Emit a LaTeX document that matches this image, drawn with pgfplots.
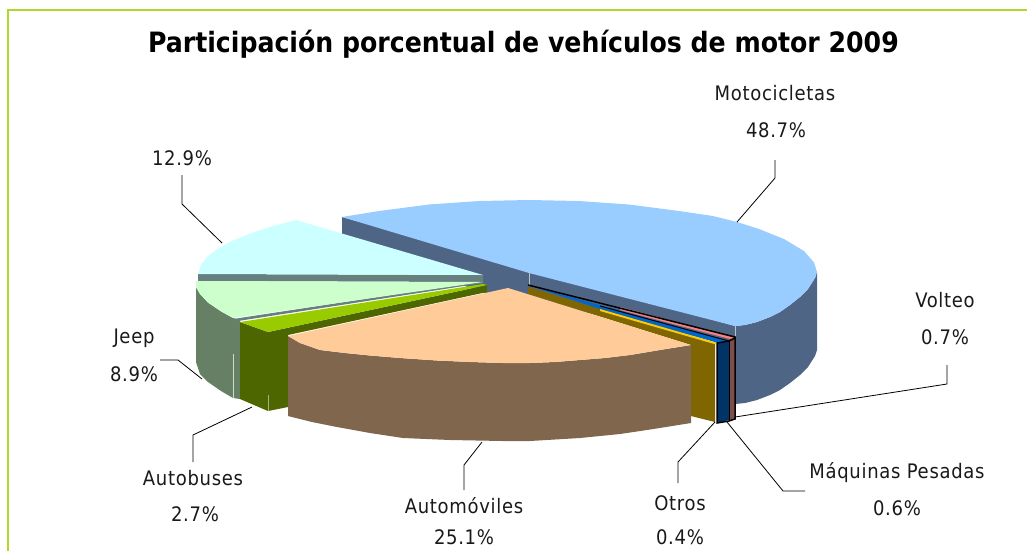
\documentclass[border=0pt]{standalone}
\usepackage{pgfplots}
\pgfplotsset{compat=1.18}
\usepackage{fontspec}
\setmainfont{DejaVu Sans Condensed}
\newfontfamily\labfont[LetterSpace=3.5]{DejaVu Sans Condensed}
\definecolor{cblue}{HTML}{99CCFF}
\definecolor{dblue}{HTML}{4F6585}
\definecolor{ccyan}{HTML}{CCFFFF}
\definecolor{dcyan}{HTML}{668080}
\definecolor{cgreen}{HTML}{CCFFCC}
\definecolor{dgreen}{HTML}{668066}
\definecolor{clime}{HTML}{99CC00}
\definecolor{dlime}{HTML}{4D6600}
\definecolor{cpeach}{HTML}{FFCC99}
\definecolor{dpeach}{HTML}{80664D}
\definecolor{cgold}{HTML}{FFCC00}
\definecolor{dgold}{HTML}{806600}
\definecolor{cmaq}{HTML}{0066CC}
\definecolor{dmaq}{HTML}{003366}
\definecolor{cred}{HTML}{FF8080}
\definecolor{dred}{HTML}{804D4D}
\definecolor{frame}{HTML}{AFD82A}
\newcommand{\poly}[2]{\addplot[fill=#1,draw=none,line width=0pt] coordinates {#2} -- cycle;}
\newcommand{\lead}[1]{\addplot[black,line width=0.8pt] coordinates {#1};}
\newcommand{\lab}[2]{\node[font=\labfont\fontsize{20}{22}\selectfont,text=black!90] at (axis cs:#1) {#2};}
\begin{document}
\begin{tikzpicture}
\path[use as bounding box] (0,0) rectangle (1027pt,550pt);
\begin{axis}[at={(0,0)},anchor=south west,scale only axis,width=1027pt,height=550pt,
 xmin=0,xmax=1027,ymin=0,ymax=550,y dir=reverse,hide axis]
% frame
\addplot[frame,line width=1.6pt] coordinates {(8,560) (8,10) (1040,10)};
% Motocicletas wall
\poly{dblue}{(735,326)(745,325)(757,322)(770,317)(780,312)(790,305)(800,297)(808,289)(815,278)(817,272)(817,350)(815,356)(808,367)(800,375)(790,383)(780,390)(770,395)(757,400)(745,403)(735,404)}
% Motocicletas cut face
\poly{dblue}{(342,217)(735,326)(735,345)(528,300)(480,292)(342,236)}
\addplot[white!60!dblue,line width=0.5pt] coordinates {(529,273)(529,285)};
\addplot[white!60!dblue,line width=0.5pt] coordinates {(735.5,326)(735.5,337)};
% Motocicletas top
\poly{cblue}{(342,217)(379,211)(429,204.5)(479,201)(529,200)(579,201)(629,204.5)(679,211)(713,216)(737,222)(759,229)(784,239)(804,251)(814,262.5)(817,272)(815,278)(808,289)(800,297)(790,305)(780,312)(770,317)(757,322)(745,325)(735,326)(529,273)}
% Cyan
\poly{dcyan}{(198,274)(483,275)(483,282)(198,281)}
\poly{ccyan}{(296,220)(273,226)(253,232.5)(233,240.4)(218,248.5)(208,256)(201,264.6)(198,274)(483,275)}
% Green wall, top
\poly{dgreen}{(196,287)(200,294)(208,302.6)(221,311.4)(233,318)(240,320)(240,399)(233,398)(221,391)(208,382)(200,374)(196,362)}
\poly{dcyan}{(233,319)(483,281)(483,283)(238,321)}
\poly{cgreen}{(196,281)(483,282)(233,318)(221,311.4)(208,302.6)(200,294)(196,287)}
% Lime
\poly{dlime}{(240,322)(268,332)(268,411)(240,399)}
\poly{dlime}{(268,332)(487,285)(487,292)(288,335)(288,407)(268,411)}
\poly{clime}{(240,322)(483,284)(487,285)(268,332)}
\addplot[white!70!dgreen,line width=0.6pt] coordinates {(233,354)(233,398)};
\addplot[white!50!dlime,line width=0.6pt] coordinates {(268,395)(268,411)};
% Otros
\poly{dgold}{(528,287)(715,343)(715,422)(691,416)(691,345)(528,294)}
% Maquinas etc.
\poly{cmaq}{(528,285)(728,341)(718,343)(600,309)}
\poly{cgold}{(600,309)(716,342.5)(716,344.5)(600,311)}
\poly{cred}{(620,307)(734,337)(734,340)(620,310)}
\poly{dmaq}{(717,343)(729,341)(729,420)(717,423)}
\poly{dred}{(729,339)(735,338)(735,419)(729,421)}
\addplot[black,line width=1.5pt] coordinates {(528,285) (735,337) (735,419) (729,421) (717,423) (717,343) (729,341) (735,338)};
\addplot[black,line width=1pt] coordinates {(729,341) (729,421)};
\addplot[black,line width=1pt] coordinates {(600,306) (729,341)};
% Peach
\poly{dpeach}{(288,336)(300,343)(320,350)(345,353)(370,355.5)(400,358)(437,360.5)(470,362)(503,363)(530,363)(555,362)(580,360)(605,358)(630,355)(660,350)(691,345)(691,423)(647,430)(620,434)(580,438)(530,441)(503,441)(450,440)(403,438)(370,433)(337,427)(312,422)(288,416)}
\poly{cpeach}{(508,288)(288,336)(300,343)(320,350)(345,353)(370,355.5)(400,358)(437,360.5)(470,362)(503,363)(530,363)(555,362)(580,360)(605,358)(630,355)(660,350)(691,345)}
% leader lines
\lead{(775,160)(775,178)(737,222)}
\lead{(182,175)(182,204)(222,243)}
\lead{(160,360)(178,360)(202,379)}
\lead{(193,462)(193,435)(252,407)}
\lead{(464,490)(464,465)(482,442)}
\lead{(678,483)(678,462)(715,422)}
\lead{(805,491)(783,491)(727,422)}
\lead{(947,365)(947,384)(735,417)}
% labels
\node[font=\fontsize{28}{30}\bfseries\selectfont] at (axis cs:523.5,44) {Participación porcentual de vehículos de motor 2009};
\lab{775,93}{Motocicletas}
\lab{776,130}{48.7\%}
\lab{182,158}{12.9\%}
\lab{134,338}{Jeep}
\lab{134,374}{8.9\%}
\lab{193,478}{Autobuses}
\lab{195,514}{2.7\%}
\lab{464,506}{Automóviles}
\lab{464,537}{25.1\%}
\lab{680,503}{Otros}
\lab{680,537}{0.4\%}
\lab{897,473}{Máquinas Pesadas}
\lab{897,508}{0.6\%}
\lab{945,300}{Volteo}
\lab{945,337}{0.7\%}
\end{axis}
\end{tikzpicture}
\end{document}
